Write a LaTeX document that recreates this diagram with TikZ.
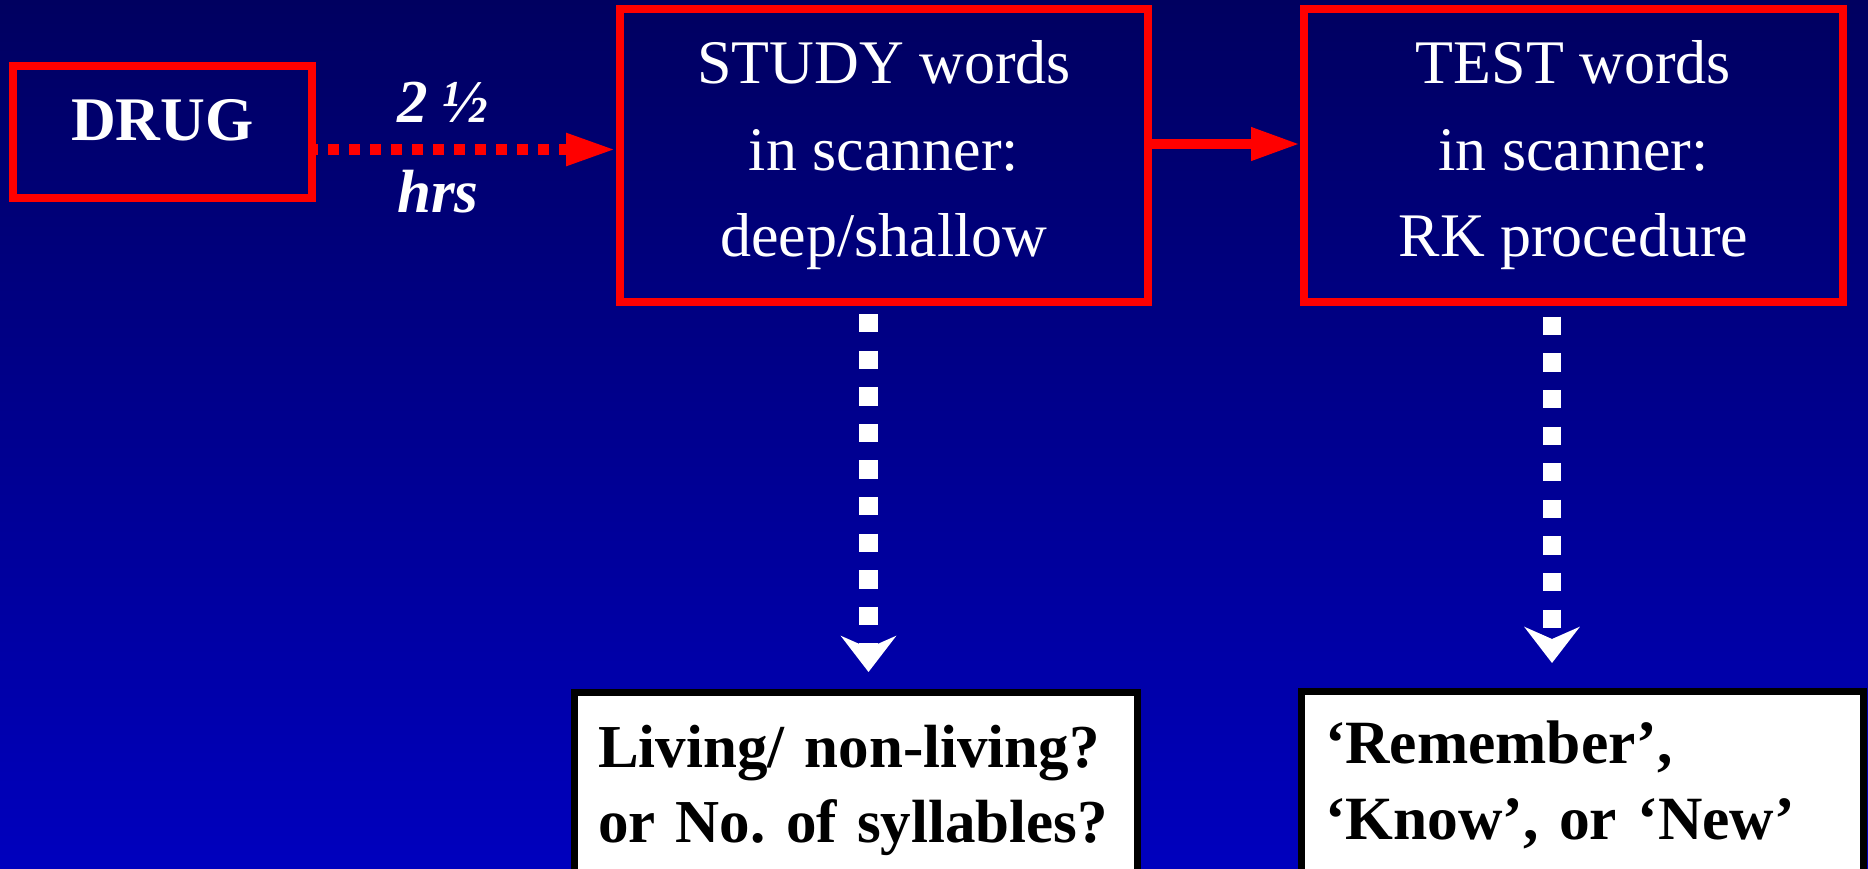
\documentclass[tikz,border=0pt]{standalone}
\usepackage{fontspec}
\setmainfont{Liberation Serif}
\usetikzlibrary{arrows.meta}

\definecolor{navytop}{RGB}{0,0,96}
\definecolor{navybot}{RGB}{0,0,190}

\begin{document}
\begin{tikzpicture}[x=1pt,y=-1pt,
  stage/.style={draw=red,line width=8pt,text=white,inner sep=0pt,align=center,font=\fontsize{62}{86.5}\selectfont},
  answer/.style={draw=black,fill=white,line width=7pt,outer sep=0pt,anchor=north west,align=left,text width=#1,inner xsep=23.5pt},
  reddots/.style={red,line width=11pt,dash pattern=on 11pt off 10pt,dash phase=9pt,-{Triangle[length=50pt,width=30pt]}},
  redline/.style={red,line width=10pt,-{Triangle[length=49pt,width=31pt]}},
  whitedots/.style={white,line width=18.5pt,dash pattern=on 18.3pt off 18.3pt,-{Stealth[length=36pt,width=55pt,inset=12pt]}}]
\useasboundingbox (0,0) rectangle (1868,868);
\shade[top color=navytop,bottom color=navybot] (0,0) rectangle (1868,868);
% the three stages
\node[stage,font=\bfseries\fontsize{62}{86.5}\selectfont,minimum width=299pt,minimum height=132.5pt,text height=43pt,text depth=27pt] (drug) at (162.5,132) {DRUG};
\node[stage,minimum width=528pt,minimum height=293pt] (study) at (884,155.5) {STUDY words\\in scanner:\\deep/shallow};
\node[stage,minimum width=539pt,minimum height=293pt] (test) at (1573.5,155.5) {TEST words\\in scanner:\\RK procedure};
\node[text=white,anchor=north west,inner sep=0pt,align=left,font=\bfseries\itshape\fontsize{61}{90}\selectfont] (delay) at (397,82) {2 ½\\hrs};
% the questions asked
\node[answer=515.5pt,inner ysep=32.4pt,font=\bfseries\frenchspacing\fontsize{61}{75}\selectfont] (living) at (574.5,692.5) {Living/ non-living?\\or No. of syllables?};
\node[answer=514.5pt,inner ysep=29.6pt,font=\bfseries\frenchspacing\fontsize{61.5}{76}\selectfont] (rk) at (1301.5,691) {‘Remember’,\\‘Know’, or ‘New’};
% arrows
\coordinate (lvl) at (0,149.5);
\draw[reddots] (drug.east |- lvl) -- (study.west |- lvl);
\draw[redline] ([yshift=11.5pt]study.east) -- ([yshift=11.5pt]test.west);
\foreach \src/\dst/\dx/\gap/\stop in {study/living/-15.5pt/8pt/20.5pt,test/rk/-21.5pt/10.7pt/28pt} {
  \coordinate (from) at ([xshift=\dx]\src.south);
  \draw[whitedots,shorten <=\gap,shorten >=\stop] (from) -- (from |- \dst.north);
}
\end{tikzpicture}
\end{document}
